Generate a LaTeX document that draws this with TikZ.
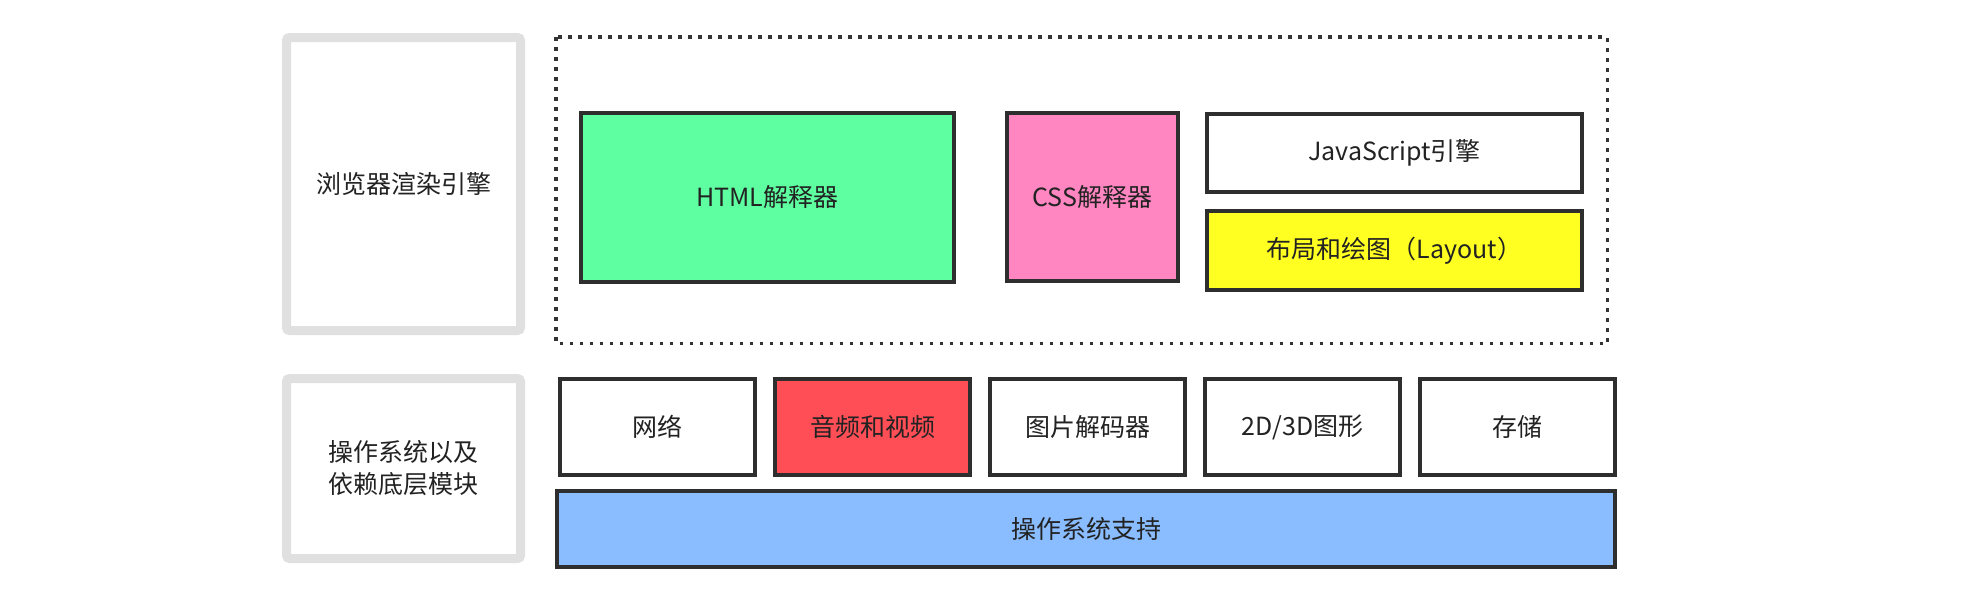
\documentclass[tikz,border=0pt]{standalone}
\usepackage{fontspec}
\newfontfamily\cjk{Noto Sans CJK SC}
\definecolor{edge}{HTML}{2E2E2E}
\definecolor{dotc}{HTML}{333333}
\definecolor{graybd}{HTML}{E0E0E0}
\definecolor{htmlfill}{HTML}{5EFFA0}
\definecolor{cssfill}{HTML}{FF86C1}
\definecolor{layoutfill}{HTML}{FFFF22}
\definecolor{avfill}{HTML}{FF4E56}
\definecolor{osfill}{HTML}{8ABDFF}
\definecolor{txt}{HTML}{222222}
\begin{document}
\begin{tikzpicture}[x=1pt,y=-1pt,
  box/.style={draw=edge, line width=4pt, rectangle, inner sep=0pt, text=txt,
    font=\cjk\fontsize{25}{30}\selectfont},
  graybox/.style={draw=graybd, line width=9pt, rounded corners=3pt, rectangle, inner sep=0pt,
    text=txt, align=center, font=\cjk\fontsize{25}{32}\selectfont},
  dotbox/.style={draw=dotc, line width=3.6pt, dash pattern=on 3.6pt off 6.4pt}
]
\useasboundingbox (0,0) rectangle (1986,592);
% left labels
\node[graybox, minimum width=234, minimum height=293] (engine) at (403.5,184) {浏览器渲染引擎};
\node[graybox, minimum width=234, minimum height=180] (oslabel) at (403.5,468.5) {操作系统以及\\依赖底层模块};
% dotted container
\draw[dotbox] (556,37) rectangle (1607.5,343.5);
% upper modules
\node[box, fill=htmlfill, minimum width=373, minimum height=169] (html) at (767.5,197.5) {HTML解释器};
\node[box, fill=cssfill, minimum width=171, minimum height=168] (css) at (1092.5,197) {CSS解释器};
\node[box, fill=white, minimum width=375, minimum height=78] (js) at (1394.5,153) {JavaScript引擎};
\node[box, fill=layoutfill, minimum width=375, minimum height=79] (layout) at (1394.5,250.5) {布局和绘图（Layout）};
% lower modules
\node[box, fill=white, minimum width=195, minimum height=96] (net) at (657.5,427) {网络};
\node[box, fill=avfill, minimum width=195, minimum height=96] (av) at (872.5,427) {音频和视频};
\node[box, fill=white, minimum width=195, minimum height=96] (img) at (1087.5,427) {图片解码器};
\node[box, fill=white, minimum width=195, minimum height=96] (gfx) at (1302.5,427) {2D/3D图形};
\node[box, fill=white, minimum width=195, minimum height=96] (store) at (1517.5,427) {存储};
\node[box, fill=osfill, minimum width=1058, minimum height=76] (os) at (1086,529) {操作系统支持};
\end{tikzpicture}
\end{document}
